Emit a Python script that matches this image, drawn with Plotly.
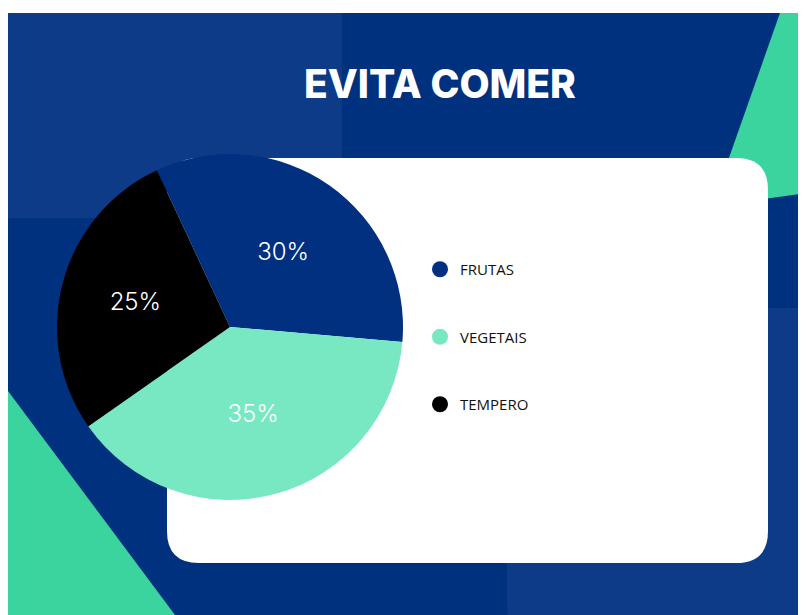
import plotly.graph_objects as go

# ---- data ----
categories = ["FRUTAS", "VEGETAIS", "TEMPERO"]
values = [30, 35, 25]
slice_colors = ["#00307f", "#78e8c2", "#000000"]
title_text = "EVITA COMER"

W, H = 798, 607
OFF = 8  # page body margin
NAVY = "#00317f"
NAVY_LIGHT = "#0d3b87"
GREEN = "#3bd49f"


def fx(x):
    return (x - OFF) / W


def fy(y):
    return 1 - (y - OFF) / H


def rect_path(x0, y0, x1, y1, r=0):
    """rounded rect in page-pixel coords -> paper path"""
    if r == 0:
        pts = [(x0, y0), (x1, y0), (x1, y1), (x0, y1)]
        return "M " + " L ".join(f"{fx(a)},{fy(b)}" for a, b in pts) + " Z"
    p = f"M {fx(x0 + r)},{fy(y0)} L {fx(x1 - r)},{fy(y0)} "
    p += f"Q {fx(x1)},{fy(y0)} {fx(x1)},{fy(y0 + r)} "
    p += f"L {fx(x1)},{fy(y1 - r)} Q {fx(x1)},{fy(y1)} {fx(x1 - r)},{fy(y1)} "
    p += f"L {fx(x0 + r)},{fy(y1)} Q {fx(x0)},{fy(y1)} {fx(x0)},{fy(y1 - r)} "
    p += f"L {fx(x0)},{fy(y0 + r)} Q {fx(x0)},{fy(y0)} {fx(x0 + r)},{fy(y0)} Z"
    return p


def poly_path(pts):
    return "M " + " L ".join(f"{fx(a)},{fy(b)}" for a, b in pts) + " Z"


shapes = [
    dict(type="path", path=rect_path(8, 13, 830, 640), fillcolor=NAVY, line_width=0),
    dict(type="path", path=rect_path(8, 13, 342, 218), fillcolor=NAVY_LIGHT, line_width=0),
    dict(type="path", path=rect_path(507, 308, 880, 680, 80), fillcolor=NAVY_LIGHT, line_width=0),
    dict(type="path", path=poly_path([(780, 13), (830, 13), (830, 190), (712, 206)]),
         fillcolor=GREEN, line_width=0),
    dict(type="path", path=poly_path([(8, 391), (175, 615), (175, 640), (8, 640)]),
         fillcolor=GREEN, line_width=0),
    dict(type="path", path=rect_path(167, 158, 768, 563, 32), fillcolor="#ffffff", line_width=0),
]
for s in shapes:
    s.update(xref="paper", yref="paper", layer="below")

cx, cy, R = 230, 327, 173

fig = go.Figure()
fig.add_trace(go.Pie(
    labels=categories,
    values=values,
    marker=dict(colors=slice_colors, line=dict(width=0)),
    sort=False,
    direction="clockwise",
    rotation=-25,
    texttemplate="%{value}%",
    textposition="inside",
    insidetextorientation="horizontal",
    textfont=dict(family="Inter", size=24, color="#ffffff", weight=300),
    hoverinfo="label+value",
    showlegend=False,
    domain=dict(x=[fx(cx - R), fx(cx + R)], y=[fy(cy + R), fy(cy - R)]),
))

for name, col in zip(categories, slice_colors):
    fig.add_trace(go.Scatter(
        x=[None], y=[None], mode="markers", name=name,
        marker=dict(symbol="circle", size=18, color=col),
        legendgroup=name, showlegend=True,
    ))

fig.update_layout(
    width=W, height=H,
    margin=dict(l=0, r=0, t=0, b=0),
    paper_bgcolor="#ffffff",
    plot_bgcolor="rgba(0,0,0,0)",
    shapes=shapes,
    xaxis=dict(visible=False, domain=[0.99, 1]),
    yaxis=dict(visible=False, domain=[0.99, 1]),
    title=dict(text=title_text, x=fx(440), y=fy(84), xanchor="center", yanchor="middle",
               font=dict(family="Inter", size=39, color="#ffffff", weight=800)),
    legend=dict(x=fx(420), y=fy(253), xanchor="left", yanchor="top",
                bgcolor="rgba(0,0,0,0)", tracegroupgap=45,
                font=dict(family="Open Sans", size=15, color="#111111", weight=500)),
    showlegend=True,
)

fig.write_html("out.html")
